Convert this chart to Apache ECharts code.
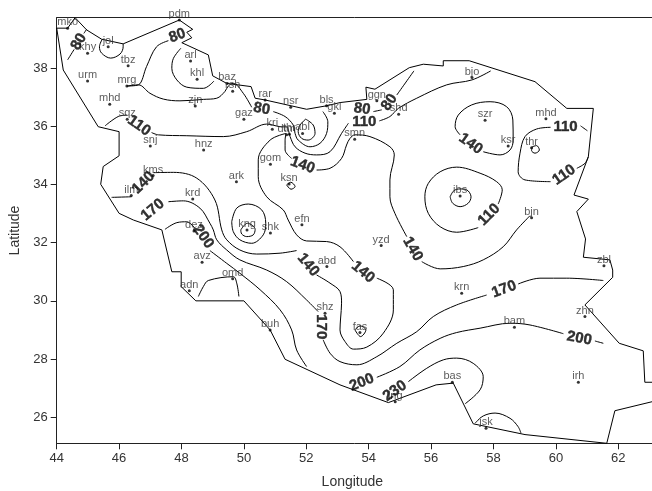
<!DOCTYPE html>
<html><head><meta charset="utf-8">
<style>html,body{margin:0;padding:0;background:#fff}#c{width:652px;height:491px}</style>
<script src="https://cdn.jsdelivr.net/npm/echarts@6/dist/echarts.min.js"></script>
</head><body><div id="c"></div>
<script>
const xTicks=[44,46,48,50,52,54,56,58,60,62];
const yTicks=[26,28,30,32,34,36,38];
const border=[[63.08,26.53],[61.89,26.22],[61.63,25.1],[59.01,25.40],[57.35,25.77],[56.71,27.17],[56.16,27.11],[54.63,26.50],[53.08,27.11],[51.32,27.99],[50.84,29.00],[50.00,30.00],[48.46,30.00],[47.99,30.49],[47.99,31.00],[47.69,31.00],[47.37,32.44],[46.46,32.78],[46.00,33.01],[45.41,34.01],[45.49,34.62],[46.00,34.99],[46.00,35.82],[45.33,35.99],[44.21,37.94],[44.00,39.38],[44.35,39.38],[44.59,39.74],[44.96,39.32],[45.44,39.00],[46.13,38.84],[47.93,39.66],[48.36,39.34],[48.17,39.24],[48.33,39.05],[48.01,38.88],[48.86,38.46],[49.00,37.74],[49.45,37.48],[50.23,37.37],[50.36,36.97],[50.68,36.91],[52.01,36.59],[52.65,36.71],[53.08,36.82],[53.94,36.93],[53.91,37.35],[54.20,37.28],[55.30,38.02],[55.75,38.14],[56.39,38.08],[56.39,38.26],[57.22,38.26],[59.33,37.54],[60.35,36.62],[61.20,36.62],[61.04,34.96],[60.58,33.64],[61.04,33.50],[60.67,33.07],[60.95,32.13],[60.88,31.50],[61.73,31.41],[61.82,31.06],[61.82,30.81],[60.93,29.86],[62.03,28.54],[62.80,28.28],[62.85,27.20],[63.08,27.20]];
const c80a=[[44.35,38.29],[44.56,38.65]];
const c80b=[[44.87,39.20],[44.96,39.34]];
const cJol=[[45.46,39.00],[45.37,38.74],[45.44,38.52],[45.73,38.35],[46.03,38.49],[46.13,38.74],[46.13,38.84]];
const c80c=[[46.26,37.39],[46.62,37.43],[46.88,38.06],[47.20,38.74],[47.58,38.95]];
const cArl=[[47.98,38.69],[47.74,38.34],[47.69,38.00],[47.85,37.60],[48.17,37.35],[48.70,37.31],[49.04,37.56]];
const c80d=[[46.26,37.39],[46.62,37.43],[46.99,37.14],[47.42,36.94],[47.95,36.88],[48.70,36.93],[49.13,36.97],[49.39,37.20],[49.50,37.39],[49.66,37.48],[49.98,37.14],[50.25,36.66]];
const c80e=[[50.94,36.51],[51.32,36.34],[51.58,36.05],[51.64,35.76],[51.74,35.53],[52.12,35.30],[52.44,35.42],[52.65,35.76],[52.69,36.16],[52.53,36.51]];
const cAbl=[[51.98,36.25],[52.22,36.05],[52.28,35.76],[52.06,35.53],[51.85,35.59],[51.74,35.82],[51.80,36.05],[51.98,36.25]];
const c80f=[[54.15,36.51],[54.42,36.57]];
const c80g=[[54.90,37.08],[55.45,37.91]];
const c110a=[[45.55,36.02],[45.97,36.34],[46.26,36.39]];
const c110b=[[47.04,35.79],[47.26,35.71],[48.17,35.68],[49.34,35.65],[50.09,35.82],[50.73,36.08],[51.16,35.99],[51.37,35.98],[51.48,35.65],[51.64,35.30],[51.96,35.08],[52.33,35.02],[52.76,35.13],[53.13,35.76],[53.35,36.11]];
const c110c=[[54.34,36.19],[54.68,36.34],[54.95,36.62],[55.54,36.97],[56.50,37.43],[57.31,37.60],[57.91,37.91]];
const c140a=[[45.76,33.56],[46.40,33.58]];
const c140b=[[47.10,34.41],[47.74,34.42],[48.49,34.22],[49.07,33.47],[49.29,32.44],[49.45,32.10],[49.87,31.75],[50.41,31.61],[51.16,31.64],[51.69,31.73]];
const c140c=[[52.33,30.89],[52.76,30.61],[53.08,30.32],[53.13,29.92],[53.10,29.41],[53.08,29.00],[53.24,28.60],[53.51,28.34],[53.94,28.41],[54.47,28.89],[54.79,29.69],[54.79,30.38],[54.26,30.78]];
const c140d=[[53.51,31.35],[53.08,31.86],[52.65,32.04],[52.01,32.06],[51.69,32.27],[51.42,32.78],[51.26,33.13],[50.73,33.58],[50.46,34.27],[50.46,34.85],[50.84,35.53],[51.35,35.76],[51.32,35.53],[51.32,35.19],[51.53,34.90]];
const c140e=[[52.33,34.50],[52.76,34.56],[53.13,34.90],[53.29,35.36],[53.40,35.59],[53.56,35.71],[54.04,35.65],[54.68,35.30],[54.82,35.02],[54.68,34.16],[54.68,33.58],[54.84,33.01],[55.22,32.21]];
const c140f=[[55.70,31.35],[56.29,31.10],[57.03,31.18],[57.67,31.41],[58.31,31.86],[58.74,32.44],[59.17,32.93]];
const cKng1=[[49.61,32.72],[49.77,33.19],[50.14,33.33],[50.57,33.13],[50.70,32.67],[50.62,32.27],[50.25,31.98],[49.87,32.10],[49.66,32.38],[49.61,32.72]];
const cKng2=[[49.90,32.44],[50.11,32.67],[50.36,32.46],[50.30,32.27],[50.09,32.21],[49.93,32.30],[49.90,32.44]];
const c170a=[[47.58,33.41],[48.06,33.44],[48.59,33.19],[48.91,32.67],[49.02,32.44],[49.13,32.10],[49.45,31.75],[49.87,31.41],[50.73,31.06],[51.37,30.66],[52.01,30.03],[52.38,29.63]];
const c170b=[[52.54,28.66],[52.76,28.20],[53.08,27.91],[53.62,27.80],[54.26,28.08],[54.90,28.54],[55.54,28.94],[56.07,29.46],[56.82,29.86],[57.78,30.20]];
const c170c=[[58.79,30.58],[59.49,30.78],[60.35,30.78],[61.52,30.70]];
const c200a=[[47.47,32.46],[47.85,32.69],[48.17,32.72],[48.43,32.50]];
const c200b=[[48.91,31.73],[49.45,31.29],[49.87,30.95],[50.52,30.38],[51.16,29.69],[51.53,29.00],[51.69,28.31],[52.01,27.74]];
const c200c=[[54.26,27.37],[55.00,27.74],[55.64,28.31],[56.29,28.71],[56.82,28.91],[57.57,29.06],[58.53,29.23],[59.17,29.17],[60.24,28.87]];
const c200d=[[61.25,28.62],[61.52,28.54]];
const c230=[[55.27,27.22],[55.86,27.68],[56.39,27.97],[56.82,28.03],[57.35,27.85],[57.67,27.39],[57.57,26.94],[57.09,26.46]];
const cJsk=[[57.41,25.79],[57.67,26.04],[58.05,26.14],[58.53,25.96],[58.79,25.67],[58.88,25.45]];
const cOmd=[[48.54,30.15],[48.70,30.49],[48.86,30.70],[49.66,30.83],[49.77,30.61],[49.84,30.15]];
const cFas=[[53.56,29.00],[53.72,29.14],[53.91,29.00],[53.74,28.77],[53.56,29.00]];
const cKsn=[[51.37,33.99],[51.50,34.08],[51.64,33.93],[51.51,33.84],[51.37,33.99]];
const cThr=[[59.24,35.30],[59.38,35.34],[59.47,35.19],[59.33,35.08],[59.22,35.17],[59.24,35.30]];
const cIbs=[[56.61,33.58],[56.69,33.36],[56.93,33.24],[57.19,33.36],[57.28,33.58],[57.14,33.82],[56.93,33.85],[56.73,33.79],[56.61,33.58]];
const c110d=[[58.15,33.33],[58.28,33.82],[58.10,34.10],[57.57,34.39],[56.82,34.60],[56.29,34.44],[55.91,34.04],[55.80,33.58],[55.91,33.01],[56.29,32.55],[56.82,32.36],[57.51,32.52]];
const cSzr=[[56.93,35.71],[56.77,35.99],[56.87,36.39],[57.30,36.74],[57.89,36.85],[58.42,36.68],[58.62,36.22],[58.63,35.53],[58.53,35.19],[58.21,35.02],[57.67,35.13]];
const c110e=[[59.83,35.97],[59.38,35.91],[59.01,35.65],[58.85,35.08],[58.79,34.44],[59.01,34.16],[59.83,34.10]];
const c110f=[[60.67,34.56],[60.93,34.73],[61.04,34.96]];
const c110g=[[60.79,36.02],[61.01,35.85]];
const contours=[c80a,c80b,cJol,c80c,cArl,c80d,c80e,cAbl,c80f,c80g,c110a,c110b,c110c,c140a,c140b,c140c,c140d,c140e,c140f,cKng1,cKng2,c170a,c170b,c170c,c200a,c200b,c200c,c200d,c230,cJsk,cOmd,cFas,cKsn,cThr,cIbs,c110d,cSzr,c110e,c110f,c110g];
const stationNames=["mko","pdm","jol","khy","tbz","arl","khl","baz","urm","mrg","rsh","rar","nsr","bls","gkl","zjn","mhd","sqz","gaz","kri","dtm","thr","abl","snj","hnz","gom","ksn","kms","ark","ilm","krd","kng","shk","efn","dez","abd","avz","omd","adn","shz","buh","ggn","shd","bjo","szr","mhd","ksr","thr","smn","ibs","bjn","yzd","zbl","krn","fas","bam","zhn","bas","irh","jsk","lng"];
const stationLon=[44.35,47.93,45.65,44.99,46.29,48.29,48.50,49.46,44.99,46.25,49.64,50.68,51.50,52.65,52.90,48.44,45.70,46.26,50.00,50.91,51.37,51.46,51.88,47.00,48.71,50.85,51.45,47.09,49.76,46.39,48.36,50.10,50.85,51.86,48.40,52.66,48.66,49.64,48.25,52.60,50.84,54.26,54.96,57.31,57.73,59.68,58.47,59.22,53.55,56.93,59.22,54.40,61.54,56.98,53.72,58.67,60.93,56.68,60.72,57.76,54.85];
const stationLat=[39.38,39.66,38.74,38.52,38.09,38.25,37.62,37.48,37.56,37.39,37.21,36.91,36.66,36.71,36.45,36.70,36.76,36.25,36.25,35.90,35.71,35.73,35.76,35.33,35.19,34.70,34.02,34.31,34.10,33.62,33.50,32.44,32.33,32.62,32.40,31.18,31.33,30.76,30.35,29.57,29.00,36.88,36.42,37.68,36.21,36.26,35.33,35.27,35.56,33.61,32.86,31.90,31.21,30.26,28.91,29.09,29.46,27.20,27.20,25.62,26.53];
const labelText=["80","80","80","80","80","110","110","110","110","110","140","140","140","140","140","140","170","170","170","200","200","200","230"];
const labelLon=[44.71,47.87,50.57,53.79,54.66,46.64,53.86,60.31,60.26,57.86,46.78,51.88,57.27,55.41,52.06,53.82,47.08,52.49,58.34,48.70,53.78,60.75,54.84];
const labelLat=[38.91,39.12,36.60,36.60,36.83,36.02,36.14,35.99,34.33,32.96,34.06,34.67,35.40,31.78,31.24,30.99,33.13,29.11,30.40,32.21,27.19,28.71,26.90];
const labelAngle=[60,20,-10,-8,55,-35,0,0,35,45,45,-20,-35,-60,-50,-40,40,-90,20,-55,22,-10,35];

const font="'Liberation Sans',Arial,sans-serif";
const series=[];
series.push({type:'line',data:border,smooth:false,symbol:'none',silent:true,lineStyle:{color:'#000',width:1},z:2});
contours.forEach(c=>series.push({type:'line',data:c,smooth:0.35,symbol:'none',silent:true,lineStyle:{color:'#000',width:1},z:2}));
series.push({type:'scatter',symbolSize:3,itemStyle:{color:'#000'},silent:true,z:3,
  data:stationNames.map((n,i)=>({value:[stationLon[i],stationLat[i]],name:n})),
  label:{show:true,position:'top',distance:-1,formatter:p=>p.name,color:'#333',fontSize:11,fontFamily:font},labelLayout:{hideOverlap:false}});
series.push({type:'scatter',symbolSize:0,silent:true,z:4,
  data:labelText.map((t,i)=>({value:[labelLon[i],labelLat[i]],name:t,
    label:{show:true,position:'inside',formatter:t,rotate:labelAngle[i],color:'#000',fontSize:15,fontWeight:'bold',fontFamily:font,textBorderColor:'#000',textBorderWidth:0.4}}))});
const axisTextColor='#333';
const chart=echarts.init(document.getElementById('c'),null,{renderer:'canvas'});
chart.setOption({animation:false,backgroundColor:'#fff',
  grid:{left:56.7,right:0,top:17.7,bottom:47.7,containLabel:false,outerBoundsMode:'none'},
  xAxis:[{type:'value',min:44,max:63.08,position:'bottom',name:'Longitude',nameLocation:'middle',nameGap:32,
    nameTextStyle:{fontSize:14,color:axisTextColor,fontFamily:font,padding:[0,4,0,0]},
    splitLine:{show:false},axisLine:{show:true,onZero:false,lineStyle:{color:'#222',width:1}},
    axisTick:{show:true,length:6,customValues:xTicks,lineStyle:{color:'#222'}},
    axisLabel:{customValues:xTicks,margin:9,fontSize:13,color:axisTextColor,fontFamily:font}},
   {type:'value',min:44,max:63.08,position:'top',splitLine:{show:false},axisLine:{show:true,onZero:false,lineStyle:{color:'#222',width:1}},axisTick:{show:false},axisLabel:{show:false}}],
  yAxis:{type:'value',min:25.1,max:39.74,name:'Latitude',nameLocation:'middle',nameGap:33,nameRotate:90,
    nameTextStyle:{fontSize:14,color:axisTextColor,fontFamily:font},
    splitLine:{show:false},axisLine:{show:true,onZero:false,lineStyle:{color:'#222',width:1}},
    axisTick:{show:true,length:6,customValues:yTicks,lineStyle:{color:'#222'}},
    axisLabel:{customValues:yTicks,margin:9,fontSize:13,color:axisTextColor,fontFamily:font}},
  series});
</script></body></html>
